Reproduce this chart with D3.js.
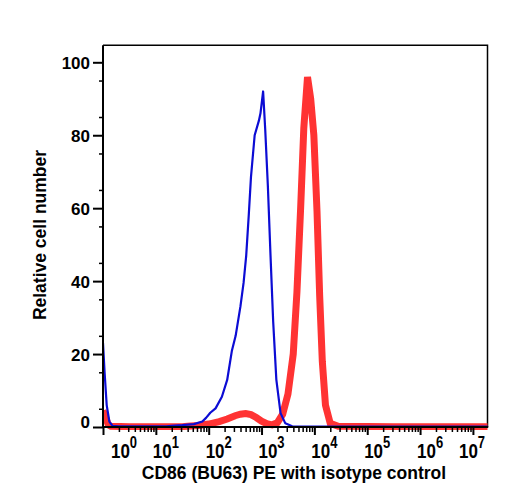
<!DOCTYPE html>
<html>
<head>
<meta charset="utf-8">
<script src="https://cdn.jsdelivr.net/npm/d3@7"></script>
<style>
  body { margin: 0; background: #fff; }
  svg text { font-family: "Liberation Sans", Arial, Helvetica, sans-serif; font-weight: bold; fill: #000; }
</style>
</head>
<body>
<svg id="chart" width="508" height="500"></svg>
<script>
// decades shown on the log axis, y ticks
var decades = [0, 1, 2, 3, 4, 5, 6, 7];
var yTicks = [0, 20, 40, 60, 80, 100];

// isotype control (blue), log10 of intensity vs relative count
var blueLog   = [0, 0.03, 0.07, 0.12, 0.18, 0.3, 0.8, 1.2, 1.3, 1.5, 1.72, 1.88, 1.95, 2.03, 2.13, 2.25, 2.35, 2.44, 2.51, 2.6, 2.66, 2.71, 2.76, 2.8, 2.87, 2.95, 2.98, 3.03, 3.07, 3.12, 3.17, 3.22, 3.28, 3.36, 3.45, 3.58, 4.5, 5.5, 6.5, 7.3];
var blueCount = [23, 15, 6, 1.5, 0.3, 0.2, 0.2, 0.2, 0.3, 0.5, 0.8, 1.5, 2.5, 3.9, 5.1, 8.3, 12.9, 21, 25, 33, 39.5, 47, 58.5, 68.5, 80, 84, 86, 92, 81.5, 66, 47, 29, 13, 3.8, 1, 0.2, 0.1, 0.1, 0.1, 0.1];

// CD86 (BU63) PE stained (red)
var redLog   = [0, 0.04, 0.1, 0.15, 0.5, 1.0, 1.5, 1.6, 1.8, 2.0, 2.2, 2.35, 2.5, 2.6, 2.7, 2.8, 2.9, 3.0, 3.1, 3.2, 3.3, 3.4, 3.5, 3.6, 3.67, 3.74, 3.8, 3.87, 3.93, 3.99, 4.05, 4.1, 4.15, 4.21, 4.3, 4.45, 5.5, 6.5, 7.3];
var redCount = [4.5, 3, 0.6, 0.2, 0.1, 0.1, 0.1, 0.2, 0.4, 0.8, 1.5, 2.2, 3.1, 3.5, 3.7, 3.4, 2.6, 1.6, 0.9, 0.6, 1.2, 3.5, 9, 20, 37, 60, 82, 96, 90, 80, 59, 36, 18, 6, 1, 0.2, 0.1, 0.1, 0.1];

var svg = d3.select("#chart");
var pLeft = 103, pRight = 487.5, pTop = 45.3, pBottom = 427;

var x = d3.scaleLog().domain([1, Math.pow(10, 7.276)]).range([pLeft, pRight]);
var y = d3.scaleLinear().domain([0, 100]).range([pBottom, 62.3]);

svg.append("defs").append("clipPath").attr("id", "plotClip")
  .append("rect").attr("x", pLeft).attr("y", pTop).attr("width", pRight - pLeft).attr("height", 430 - pTop);

// frame (top and right)
svg.append("path")
  .attr("d", "M" + pLeft + "," + pTop + "H" + pRight + "V" + pBottom)
  .attr("fill", "none").attr("stroke", "#000").attr("stroke-width", 1.5);

var line = d3.line()
  .x(function(d){ return x(Math.pow(10, d[0])); })
  .y(function(d){ return y(d[1]); });

var plot = svg.append("g").attr("clip-path", "url(#plotClip)");

plot.append("path")
  .datum(d3.zip(redLog, redCount))
  .attr("d", line)
  .attr("fill", "none").attr("stroke", "#ff3333").attr("stroke-width", 7)
  .attr("stroke-linejoin", "miter");

plot.append("path")
  .datum(d3.zip(blueLog, blueCount))
  .attr("d", line)
  .attr("fill", "none").attr("stroke", "#0c0cd4").attr("stroke-width", 2.2)
  .attr("stroke-linejoin", "round");

// x axis: minor then major ticks
var minorX = [];
decades.forEach(function(k){
  for (var m = 2; m <= 9; m++) {
    var v = m * Math.pow(10, k);
    if (v <= x.domain()[1]) minorX.push(v);
  }
});
var majorX = decades.map(function(k){ return Math.pow(10, k); });

svg.append("g").attr("transform", "translate(0," + pBottom + ")")
  .call(d3.axisBottom(x).tickValues(minorX).tickSize(5).tickFormat(""))
  .call(function(g){ g.select(".domain").remove(); g.selectAll("line").attr("stroke-width", 1.5); });

svg.append("g").attr("transform", "translate(0," + pBottom + ")")
  .call(d3.axisBottom(x).tickValues(majorX).tickSize(8).tickSizeOuter(0).tickFormat(""))
  .call(function(g){
    g.select(".domain").attr("d", "M" + (pLeft - 1) + ",0H" + (pRight + 0.75)).attr("stroke-width", 2);
    g.selectAll("line").attr("stroke-width", 2);
  });

// decade labels 10^k, kept inside the plot width
decades.forEach(function(k){
  var cx = Math.max(124, Math.min(472, x(Math.pow(10, k)) + 10));
  var t = svg.append("g").attr("transform", "translate(" + cx + ",458) scale(1,1.2)")
    .append("text").attr("text-anchor", "middle").attr("font-size", 17);
  t.append("tspan").text("10");
  t.append("tspan").attr("font-size", 13).attr("dy", -8).text(k);
});

// y axis
var minorY = d3.range(5, 100, 10);
svg.append("g").attr("transform", "translate(" + pLeft + ",0)")
  .call(d3.axisLeft(y).tickValues(minorY).tickSize(4).tickFormat(""))
  .call(function(g){ g.select(".domain").remove(); g.selectAll("line").attr("stroke-width", 1.5); });

var yAxis = svg.append("g").attr("transform", "translate(" + pLeft + ",0)")
  .call(d3.axisLeft(y).tickValues(yTicks).tickSize(10).tickSizeOuter(0).tickPadding(3));
yAxis.select(".domain").attr("d", "M0," + (pBottom + 1) + "V" + pTop).attr("stroke-width", 2);
yAxis.selectAll("line").attr("stroke-width", 2);
yAxis.selectAll("text")
  .attr("font-size", 17)
  .attr("font-family", null)
  .attr("dy", function(d){ return d === 0 ? "0.05em" : "0.35em"; });

// axis titles
svg.append("text")
  .attr("x", 294).attr("y", 479)
  .attr("text-anchor", "middle").attr("font-size", 17.5)
  .text("CD86 (BU63) PE with isotype control");

svg.append("text")
  .attr("transform", "translate(46,235) rotate(-90)")
  .attr("text-anchor", "middle").attr("font-size", 17.5)
  .text("Relative cell number");
</script>
</body>
</html>
